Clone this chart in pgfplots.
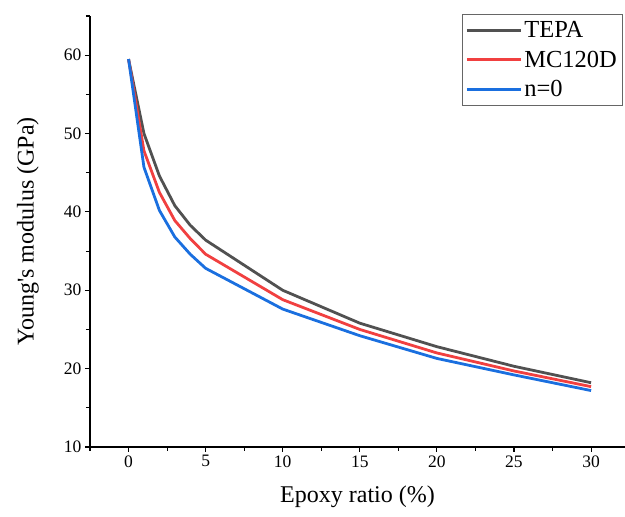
\documentclass[border=0pt]{standalone}
\usepackage{fontspec}
\setmainfont{Liberation Serif}
\usepackage{pgfplots}
\pgfplotsset{compat=1.18}
\usetikzlibrary{calc}
\definecolor{orgray}{HTML}{515151}
\definecolor{orred}{HTML}{F14040}
\definecolor{orblue}{HTML}{1A6FDF}

\begin{document}
\begin{tikzpicture}
\begin{axis}[
  scale only axis, width=535bp, height=431bp,
  xmin=-2.5, xmax=32.2, ymin=10, ymax=65,
  axis x line*=bottom, axis y line*=left,
  axis line style={black, line width=1.2pt},
  every tick/.style={black, line width=1.1pt},
  tick align=outside,
  major tick length=5bp, minor tick length=4bp,
  xtick={0,5,...,30}, ytick={10,20,...,60},
  minor xtick={-2.5,2.5,...,30}, minor ytick={15,25,...,65},
  /pgf/number format/assume math mode=true,
  tick label style={font=\fontsize{17.5bp}{20bp}\selectfont},
  xlabel={Epoxy ratio (\%)},
  ylabel={Young\textquotesingle s modulus (GPa)},
  label style={font=\fontsize{24bp}{28bp}\selectfont},
  xlabel style={at={(axis description cs:0.5,-0.116)}, anchor=center},
  ylabel style={at={(axis description cs:-0.116,0.5)}, anchor=center},
  legend cell align=left,
  legend style={at={(axis description cs:0.995,1.005)}, anchor=north east,
    draw=black!60, line width=0.8pt, font=\fontsize{24.5bp}{28bp}\selectfont,
    inner xsep=3bp, inner ysep=5bp, row sep=8bp},
  legend image code/.code={\draw[#1, line width=3pt] (0bp,0bp) -- (54bp,0bp);},
]
\addplot[orgray, line width=2.8pt, line join=round] coordinates
  {(0,59.5)(1,50.0)(2,44.6)(3,40.8)(4,38.3)(5,36.4)(10,30.0)(15,25.8)(20,22.8)(25,20.3)(30,18.2)};
\addplot[orred, line width=2.8pt, line join=round] coordinates
  {(0,59.5)(1,47.8)(2,42.5)(3,38.9)(4,36.6)(5,34.6)(10,28.8)(15,25.0)(20,22.0)(25,19.7)(30,17.7)};
\addplot[orblue, line width=2.8pt, line join=round] coordinates
  {(0,59.5)(1,45.7)(2,40.2)(3,36.8)(4,34.6)(5,32.8)(10,27.6)(15,24.2)(20,21.3)(25,19.2)(30,17.2)};
\legend{TEPA, MC120D, n=0}
\end{axis}
\pgfresetboundingbox
\path ($(current axis.south west)+(-90bp,-70bp)$) rectangle ($(current axis.north east)+(0bp,16bp)$);
\end{tikzpicture}
\end{document}
